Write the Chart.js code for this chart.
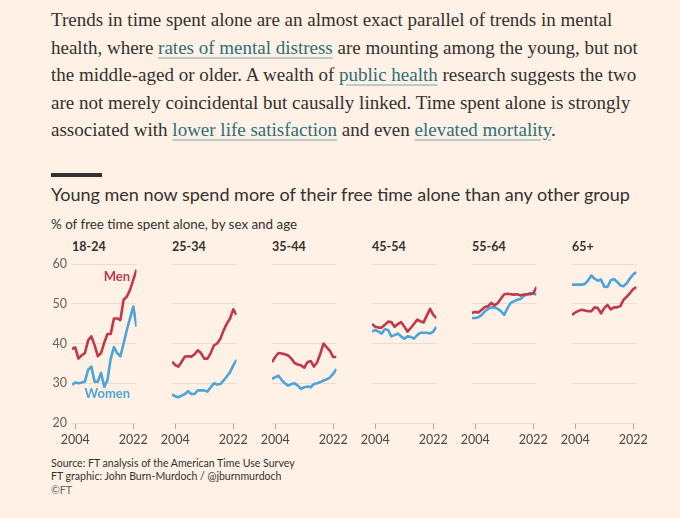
<!DOCTYPE html>
<html>
<head>
<meta charset="utf-8">
<script src="https://cdn.jsdelivr.net/npm/chart.js@4.4.0/dist/chart.umd.min.js"></script>
<style>
    html, body { margin: 0; padding: 0; background: #fff1e5; }
    body { width: 680px; height: 518px; position: relative; overflow: hidden; font-family: Lato, sans-serif; color: #33302e; }
    .fit { position: absolute; white-space: nowrap; display: inline-block; }
    #para { left: 51px; top: 6px; font-family: 'Liberation Serif', serif; font-size: 18.5px; line-height: 27.6px; color: #33302e; }
    #para a { color: #2b6f78; text-decoration: underline; text-decoration-color: rgba(43, 111, 120, 0.3); text-decoration-thickness: 2px; text-underline-offset: 3px; }
    #rule { position: absolute; left: 51px; top: 173px; width: 51px; height: 4px; background: #33302e; }
    #title { left: 51px; top: 182px; font-size: 19px; line-height: 24px; color: #33302e; }
    #subtitle { left: 51px; top: 215px; font-size: 13.5px; line-height: 18px; color: #33302e; }
    .panel-title { position: absolute; top: 239px; font-size: 12.5px; line-height: 16px; font-weight: bold; color: #33302e; }
    .panel { position: absolute; top: 250px; width: 120px; height: 200px; }
    #source { left: 51px; top: 457px; font-size: 11px; line-height: 13.4px; color: #33302e; }
    #source .ft { color: #66605c; }
</style>
</head>
<body>

<div id="para" class="fit">Trends in time spent alone are an almost exact parallel of trends in mental<br>health, where <a>rates of mental distress</a> are mounting among the young, but not<br>the middle-aged or older. A wealth of <a>public health</a> research suggests the two<br>are not merely coincidental but causally linked. Time spent alone is strongly<br>associated with <a>lower life satisfaction</a> and even <a>elevated mortality</a>.</div>
<div id="rule"></div>
<div id="title" class="fit">Young men now spend more of their free time alone than any other group</div>
<div id="subtitle" class="fit">% of free time spent alone, by sex and age</div>
<div id="panels"></div>
<div id="source" class="fit">Source: FT analysis of the American Time Use Survey<br>FT graphic: John Burn-Murdoch / @jburnmurdoch<br><span class="ft">©FT</span></div>

<script>
// data, one value per year
const years = [2003, 2004, 2005, 2006, 2007, 2008, 2009, 2010, 2011, 2012, 2013, 2014, 2015, 2016, 2017, 2018, 2019, 2020, 2021, 2022, 2023];
const ageGroups = ['18-24', '25-34', '35-44', '45-54', '55-64', '65+'];
const xTickValues = [2004, 2022];
const yTickValues = [20, 30, 40, 50, 60];

const men18 = [38.6, 39.0, 36.2, 37.0, 37.6, 40.8, 41.8, 39.6, 36.8, 37.6, 40.2, 42.4, 42.4, 46.3, 46.3, 45.9, 51.0, 51.8, 53.5, 56.0, 58.6];
const women18 = [29.6, 30.2, 30.0, 30.2, 30.4, 33.4, 34.2, 30.4, 30.4, 32.6, 29.1, 30.8, 36.2, 39.1, 37.6, 36.8, 40.0, 43.4, 46.3, 49.3, 44.2];
const men25 = [35.4, 34.6, 34.2, 35.4, 36.7, 36.8, 36.7, 37.3, 38.3, 37.6, 36.2, 36.2, 37.6, 39.5, 40.0, 41.2, 43.3, 45.0, 46.3, 48.6, 47.2];
const women25 = [27.2, 26.7, 26.5, 26.9, 27.3, 28.0, 27.3, 27.3, 28.2, 28.2, 28.2, 27.9, 29.0, 30.0, 29.7, 29.8, 30.7, 31.7, 32.8, 34.5, 35.9];
const men35 = [35.3, 36.6, 37.6, 37.5, 37.3, 37.0, 36.2, 35.1, 34.7, 34.5, 33.9, 35.3, 35.6, 34.2, 35.3, 37.5, 40.0, 39.0, 38.1, 36.6, 36.6];
const women35 = [31.1, 31.5, 31.9, 30.8, 30.0, 29.4, 29.8, 30.0, 29.4, 28.6, 29.0, 29.2, 29.0, 29.8, 30.0, 30.3, 30.7, 31.0, 31.5, 32.4, 33.6];
const men45 = [44.9, 44.2, 44.0, 44.0, 44.7, 45.5, 45.4, 44.2, 44.9, 45.4, 44.3, 43.0, 43.9, 44.9, 46.0, 45.6, 45.3, 47.0, 48.7, 47.2, 46.4];
const women45 = [43.0, 43.4, 43.0, 42.5, 43.6, 43.4, 41.8, 42.1, 42.5, 41.8, 41.2, 41.8, 41.7, 41.2, 42.1, 42.7, 42.7, 42.7, 42.5, 43.0, 44.2];
const men55 = [47.7, 47.9, 47.8, 48.5, 49.2, 49.4, 50.2, 49.6, 50.2, 51.3, 52.4, 52.5, 52.4, 52.3, 52.4, 52.1, 52.3, 52.4, 52.4, 52.6, 54.2];
const women55 = [46.4, 46.4, 46.6, 47.2, 48.1, 48.7, 49.1, 49.1, 48.7, 48.1, 47.2, 48.9, 50.2, 50.6, 51.0, 51.2, 51.9, 52.3, 52.7, 52.5, 52.3];
const men65 = [47.2, 47.8, 48.2, 48.5, 48.3, 48.1, 48.1, 49.1, 48.9, 47.6, 48.9, 49.7, 48.6, 49.1, 49.1, 49.4, 51.0, 51.8, 52.7, 53.7, 54.2];
const women65 = [54.8, 54.8, 54.8, 54.8, 55.0, 55.9, 57.1, 56.3, 55.8, 56.1, 54.3, 54.2, 55.9, 56.2, 55.5, 54.6, 54.4, 55.2, 56.4, 57.4, 58.0];

const menSeries = [men18, men25, men35, men45, men55, men65];
const womenSeries = [women18, women25, women35, women45, women55, women65];

const RED = '#c2374a';
const BLUE = '#4ba4da';
const SANS = 'Lato, sans-serif';

// shrink/grow the text blocks so their widths match the reference
function fitWidth(id, target) {
    const el = document.getElementById(id);
    const size = parseFloat(getComputedStyle(el).fontSize);
    el.style.fontSize = (size * target / el.offsetWidth) + 'px';
}
fitWidth('para', 587);
fitWidth('title', 579);
fitWidth('subtitle', 246);
fitWidth('source', 244);

// series labels drawn in data space on the first panel
const seriesLabels = {
    plot: 0,
    items: [
        { text: 'Men', year: 2021, value: 56.7, color: RED },
        { text: 'Women', year: 2021, value: 27.4, color: BLUE }
    ]
};

const seriesLabelPlugin = {
    id: 'seriesLabels',
    afterDatasetsDraw(chart, args, opts) {
        if (!opts.show) return;
        const ctx = chart.ctx;
        ctx.save();
        ctx.font = 'bold 13px ' + SANS;
        ctx.textAlign = 'right';
        ctx.textBaseline = 'middle';
        seriesLabels.items.forEach(function(item) {
            ctx.fillStyle = item.color;
            ctx.fillText(item.text, chart.scales.x.getPixelForValue(item.year), chart.scales.y.getPixelForValue(item.value));
        });
        ctx.restore();
    }
};

const panelsEl = document.getElementById('panels');

ageGroups.forEach(function(group, i) {
    const title = document.createElement('div');
    title.className = 'panel-title';
    title.style.left = (72 + i * 100) + 'px';
    title.textContent = group;
    panelsEl.appendChild(title);

    const box = document.createElement('div');
    box.className = 'panel';
    box.style.left = (40 + i * 100) + 'px';
    const canvas = document.createElement('canvas');
    box.appendChild(canvas);
    panelsEl.appendChild(box);

    new Chart(canvas.getContext('2d'), {
        type: 'line',
        data: {
            datasets: [
                {
                    label: 'Men',
                    data: years.map((y, j) => ({ x: y, y: menSeries[i][j] })),
                    borderColor: RED,
                    borderWidth: 2.6,
                    pointRadius: 0,
                    tension: 0,
                    borderJoinStyle: 'round',
                    order: 0
                },
                {
                    label: 'Women',
                    data: years.map((y, j) => ({ x: y, y: womenSeries[i][j] })),
                    borderColor: BLUE,
                    borderWidth: 2.6,
                    pointRadius: 0,
                    tension: 0,
                    borderJoinStyle: 'round',
                    order: 1
                }
            ]
        },
        options: {
            responsive: true,
            maintainAspectRatio: false,
            animation: false,
            events: [],
            layout: {
                padding: { top: 14, right: 23.5, bottom: 0, left: 0 }
            },
            plugins: {
                legend: { display: false },
                tooltip: { enabled: false },
                seriesLabels: { show: i === seriesLabels.plot }
            },
            scales: {
                x: {
                    type: 'linear',
                    min: years[0],
                    max: years[years.length - 1],
                    afterBuildTicks: function(scale) {
                        scale.ticks = xTickValues.map(v => ({ value: v }));
                    },
                    afterFit: function(scale) {
                        scale.height = 27;
                    },
                    ticks: {
                        autoSkip: false,
                        maxRotation: 0,
                        padding: 3,
                        color: '#4d4845',
                        font: { family: SANS, size: 12.5 },
                        callback: function(value) {
                            return String(value);
                        }
                    },
                    grid: {
                        drawOnChartArea: false,
                        drawTicks: true,
                        tickLength: 6,
                        tickColor: '#b3a89f',
                        lineWidth: 1
                    },
                    border: { display: false }
                },
                y: {
                    min: 20,
                    max: 60,
                    afterBuildTicks: function(scale) {
                        scale.ticks = yTickValues.map(v => ({ value: v }));
                    },
                    afterFit: function(scale) {
                        scale.width = 32;
                    },
                    ticks: {
                        display: i === 0,
                        padding: 5,
                        color: '#66605c',
                        font: { family: SANS, size: 12.5 }
                    },
                    grid: {
                        color: '#eadccf',
                        lineWidth: 1,
                        drawTicks: false
                    },
                    border: { display: false }
                }
            }
        },
        plugins: [seriesLabelPlugin]
    });
});
</script>
</body>
</html>
